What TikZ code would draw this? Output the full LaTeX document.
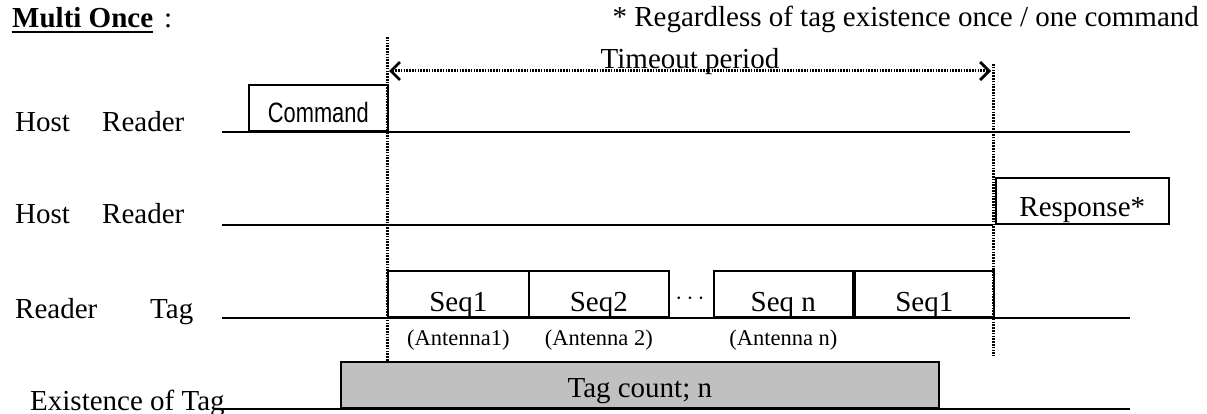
\documentclass[tikz,border=0pt]{standalone}
\usepackage{fontspec}
\setmainfont{Liberation Serif}
\newfontfamily\cmdfont{Liberation Sans}
\usetikzlibrary{arrows.meta}
\begin{document}
\begin{tikzpicture}[x=1pt,y=-1pt,
  txt/.style={inner sep=0pt, anchor=base, font=\fontsize{29}{34}\selectfont},
  lbl/.style={txt, anchor=base west},
  small/.style={inner sep=0pt, anchor=base, font=\fontsize{22.5}{26}\selectfont},
  sig/.style={line width=2pt},
  slot/.style={draw, line width=1.6pt, minimum height=46pt, inner sep=0pt, anchor=south west},
  guide/.style={line width=3pt, dash pattern=on 1.6pt off 1.2pt},
  span/.style={guide, {Straight Barb[length=9pt,width=18pt,line width=2.8pt]}-{Straight Barb[length=9pt,width=18pt,line width=2.8pt]}},
]
\useasboundingbox (0,0) rectangle (1207,414);

% heading
\node[lbl, font=\fontsize{29}{34}\selectfont\bfseries] (title) at (12,28) {Multi Once};
\draw[line width=1.5pt] ([yshift=-4pt]title.base west) -- ([yshift=-4pt]title.base east);
\node[lbl] (colon) at (164,28) {:};
\node[txt, anchor=base east] (note) at (1199,27) {* Regardless of tag existence once / one command};

% time markers
\coordinate (g1t) at (387,37);
\coordinate (g1b) at (387,363);
\coordinate (g2t) at (993,64);
\coordinate (g2b) at (993,356);
\draw[guide] (g1t) -- (g1b);
\draw[guide] (g2t) -- (g2b);
\coordinate (tl) at (389,71);
\coordinate (tr) at (991,71);
\draw[span] (tl) -- (tr);
\node[txt] (timeout) at (690,69) {Timeout period};

% row 1: Host -> Reader
\node[lbl] (h1a) at (15,132) {Host};
\node[lbl] (h1b) at (102,132) {Reader};
\coordinate (r1s) at (222,132);
\coordinate (r1e) at (1130,132);
\draw[sig] (r1s) -- (r1e);
\node[slot, minimum width=139pt] (cmd) at (248,132) {};
\node[inner sep=0pt, anchor=base, font=\cmdfont\fontsize{28}{32}\selectfont] (cmdt) at ([yshift=9pt]cmd.south) {\scalebox{0.78}[1]{Command}};

% row 2: Host <- Reader
\node[lbl] (h2a) at (15,224) {Host};
\node[lbl] (h2b) at (102,224) {Reader};
\coordinate (r2s) at (222,225);
\coordinate (r2e) at (993,225);
\draw[sig] (r2s) -- (r2e);
\node[slot, minimum width=173pt] (resp) at (995,225) {};
\node[txt] (respt) at ([yshift=8pt]resp.south) {Response*};

% row 3: Reader -> Tag
\node[lbl] (h3a) at (15,318) {Reader};
\node[lbl] (h3b) at (150,318) {Tag};
\coordinate (r3s) at (222,318);
\coordinate (r3e) at (1130,318);
\draw[sig] (r3s) -- (r3e);
\node[slot, minimum width=141pt] (s1) at (387,318) {};
\node[slot, minimum width=140pt] (s2) at (528,318) {};
\node[slot, minimum width=139pt] (sn) at (713,318) {};
\node[slot, minimum width=139pt] (s4) at (854,318) {};
\node[txt] (s1t) at ([yshift=7pt]s1.south) {Seq1};
\node[txt] (s2t) at ([yshift=7pt]s2.south) {Seq2};
\node[txt] (snt) at ([yshift=7pt]sn.south) {Seq n};
\node[txt] (s4t) at ([yshift=7pt]s4.south) {Seq1};
\node[inner sep=0pt, font=\fontsize{42}{46}\selectfont] (dots) at (690,299) {$\cdots$};
\node[small] (a1) at ([yshift=-27pt]s1.south) {(Antenna1)};
\node[small] (a2) at ([yshift=-27pt]s2.south) {(Antenna 2)};
\node[small] (an) at ([yshift=-27pt]sn.south) {(Antenna n)};

% row 4: tag presence
\node[lbl] (h4) at (30,410) {Existence of Tag};
\coordinate (r4s) at (222,409);
\coordinate (r4e) at (1130,409);
\draw[sig] (r4s) -- (r4e);
\node[slot, fill={rgb,255:red,192;green,192;blue,192}, minimum width=598pt] (cnt) at (340,409) {};
\node[txt] (cntt) at ([yshift=12pt]cnt.south) {Tag count; n};
\end{tikzpicture}
\end{document}
